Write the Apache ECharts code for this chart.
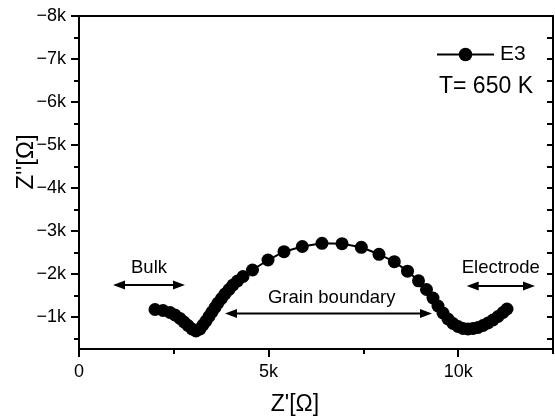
<!DOCTYPE html>
<html>
<head>
<meta charset="utf-8">
<script src="https://cdn.jsdelivr.net/npm/echarts@6/dist/echarts.min.js"></script>
<style>
  html, body { margin: 0; padding: 0; background: #fff; }
  #chart { width: 555px; height: 416px; }
</style>
</head>
<body>
<div id="chart"></div>
<script>
// Nyquist plot of sample E3 at 650 K: real part Z' against imaginary part Z'' (both in ohm)
const seriesName = 'E3';
const tempLabel = 'T= 650 K';

const zReal = [
  2004, 2215, 2400, 2532, 2664, 2769, 2874, 2980, 3085, 3191,
  3270, 3349, 3428, 3507, 3587, 3666, 3758, 3850, 3956, 4061,
  4180, 4325, 4575, 4984, 5406, 5889, 6408, 6936, 7445, 7911,
  8315, 8663, 8953, 9164, 9335, 9467, 9599, 9731, 9863, 9995,
  10127, 10258, 10390, 10522, 10654, 10786, 10918, 11050, 11181, 11287
];
const zImag = [
  -1169, -1146, -1099, -1041, -960, -878, -797, -715, -669, -715,
  -809, -902, -1006, -1111, -1216, -1321, -1425, -1530, -1635, -1739,
  -1833, -1937, -2089, -2321, -2514, -2635, -2710, -2701, -2617, -2454,
  -2282, -2061, -1837, -1635, -1437, -1251, -1088, -948, -843, -774,
  -727, -715, -727, -750, -797, -855, -925, -1006, -1099, -1181
];

// axis ranges and tick positions
const xRange = [0, 12500];
const yRange = [-8000, -250];
const xTickValues = [0, 5000, 10000];
const xMinorValues = [2500, 7500, 12500];
const yTickValues = [-8000, -7000, -6000, -5000, -4000, -3000, -2000, -1000];
const yMinorValues = [-7500, -6500, -5500, -4500, -3500, -2500, -1500, -500];
const yRightValues = [-7500, -7000, -6500, -6000, -5500, -5000, -4500, -4000, -3500,
                      -3000, -2500, -2000, -1500, -1000, -500];

// relaxation regions marked under the arcs (data coordinates)
const regionNames = ['Bulk', 'Grain boundary', 'Electrode'];
const regionFrom = [897, 3850, 10224];
const regionTo = [2795, 9309, 12025];
const regionArrowY = [-1739, -1076, -1716];
const regionTextX = [1846, 6664, 11123];
const regionTextY = [-2135, -1449, -2128];

const FONT = '"Liberation Sans", Arial, Helvetica, sans-serif';
const INK = '#000';

const kFormat = v => v === 0 ? '0' : (v < 0 ? '\u2212' : '') + Math.abs(v / 1000) + 'k';

const chart = echarts.init(document.getElementById('chart'), null, { renderer: 'canvas' });

const bareAxis = {
  type: 'value',
  axisLabel: { show: false },
  splitLine: { show: false }
};

chart.setOption({
  backgroundColor: '#fff',
  animation: false,
  grid: { left: 79, right: 2, top: 16, bottom: 67, containLabel: false, outerBoundsMode: 'none' },
  legend: {
    data: [seriesName],
    left: 436,
    top: 44,
    padding: 0,
    itemWidth: 57,
    itemHeight: 17,
    itemGap: 0,
    textStyle: { fontFamily: FONT, fontSize: 21, color: INK, padding: [0, 0, 0, 1] },
    selectedMode: false
  },
  xAxis: [
    {
      type: 'value', min: xRange[0], max: xRange[1], interval: 5000,
      position: 'bottom', offset: 0,
      axisLine: { show: true, onZero: false, lineStyle: { color: INK, width: 2 } },
      axisTick: { show: true, inside: false, length: 8, customValues: xTickValues,
                  lineStyle: { color: INK, width: 2 } },
      axisLabel: { show: true, customValues: xTickValues, formatter: kFormat, margin: 14,
                   fontFamily: FONT, fontSize: 18, color: INK },
      splitLine: { show: false }
    },
    Object.assign({}, bareAxis, {
      min: xRange[0], max: xRange[1], position: 'bottom', offset: 0,
      axisLine: { show: false, onZero: false },
      axisTick: { show: true, inside: false, length: 5, customValues: xMinorValues,
                  lineStyle: { color: INK, width: 2 } }
    }),
    Object.assign({}, bareAxis, {
      min: xRange[0], max: xRange[1], position: 'top', offset: 0,
      axisLine: { show: true, onZero: false, lineStyle: { color: INK, width: 2 } },
      axisTick: { show: false }
    })
  ],
  yAxis: [
    {
      type: 'value', min: yRange[0], max: yRange[1], interval: 1000, inverse: true,
      position: 'left', offset: 0,
      axisLine: { show: true, onZero: false, lineStyle: { color: INK, width: 2 } },
      axisTick: { show: true, inside: false, length: 8, customValues: yTickValues,
                  lineStyle: { color: INK, width: 2 } },
      axisLabel: { show: true, customValues: yTickValues, formatter: kFormat, margin: 13,
                   fontFamily: FONT, fontSize: 18, color: INK },
      splitLine: { show: false }
    },
    Object.assign({}, bareAxis, {
      min: yRange[0], max: yRange[1], inverse: true, position: 'left', offset: 0,
      axisLine: { show: false, onZero: false },
      axisTick: { show: true, inside: false, length: 5, customValues: yMinorValues,
                  lineStyle: { color: INK, width: 2 } }
    }),
    Object.assign({}, bareAxis, {
      min: yRange[0], max: yRange[1], inverse: true, position: 'right', offset: 0,
      axisLine: { show: true, onZero: false, lineStyle: { color: INK, width: 2 } },
      axisTick: { show: true, inside: true, length: 6, customValues: yRightValues,
                  lineStyle: { color: INK, width: 2 } }
    })
  ],
  series: [{
    name: seriesName,
    type: 'line',
    xAxisIndex: 0,
    yAxisIndex: 0,
    data: zReal.map((x, i) => [x, zImag[i]]),
    symbol: 'circle',
    symbolSize: 13,
    showAllSymbol: true,
    lineStyle: { color: INK, width: 2 },
    itemStyle: { color: INK, borderWidth: 0 },
    emphasis: { disabled: true }
  }]
});

// annotation layer: double-headed arrows with region names, plus title texts
function toPx(x, y) {
  return chart.convertToPixel({ xAxisIndex: 0, yAxisIndex: 0 }, [x, y]);
}

function doubleArrow(x1, x2, y) {
  const head = 12, half = 4.5;
  return {
    type: 'group',
    silent: true,
    children: [
      { type: 'line', shape: { x1: x1 + head - 2, y1: y, x2: x2 - head + 2, y2: y },
        style: { stroke: INK, lineWidth: 2 } },
      { type: 'polygon', shape: { points: [[x1, y], [x1 + head, y - half], [x1 + head, y + half]] },
        style: { fill: INK } },
      { type: 'polygon', shape: { points: [[x2, y], [x2 - head, y - half], [x2 - head, y + half]] },
        style: { fill: INK } }
    ]
  };
}

const graphics = [];
regionNames.forEach((name, i) => {
  const a = toPx(regionFrom[i], regionArrowY[i]);
  const b = toPx(regionTo[i], regionArrowY[i]);
  graphics.push(doubleArrow(a[0], b[0], a[1]));
  const t = toPx(regionTextX[i], regionTextY[i]);
  graphics.push({
    type: 'text', x: t[0], y: t[1], silent: true,
    style: { text: name, fill: INK, font: '18.5px ' + FONT, align: 'center', verticalAlign: 'middle' }
  });
});

graphics.push({
  type: 'text', x: 439, y: 87, silent: true,
  style: { text: tempLabel, fill: INK, font: '23px ' + FONT, align: 'left', verticalAlign: 'middle' }
});
graphics.push({
  type: 'text', x: 295, y: 405, silent: true,
  style: { text: "Z'[\u03A9]", fill: INK, font: '23px ' + FONT, align: 'center', verticalAlign: 'middle' }
});
graphics.push({
  type: 'text', x: 26, y: 162, rotation: Math.PI / 2, silent: true,
  style: { text: "Z''[\u03A9]", fill: INK, font: '24px ' + FONT, align: 'center', verticalAlign: 'middle' }
});

chart.setOption({ graphic: graphics });
</script>
</body>
</html>
